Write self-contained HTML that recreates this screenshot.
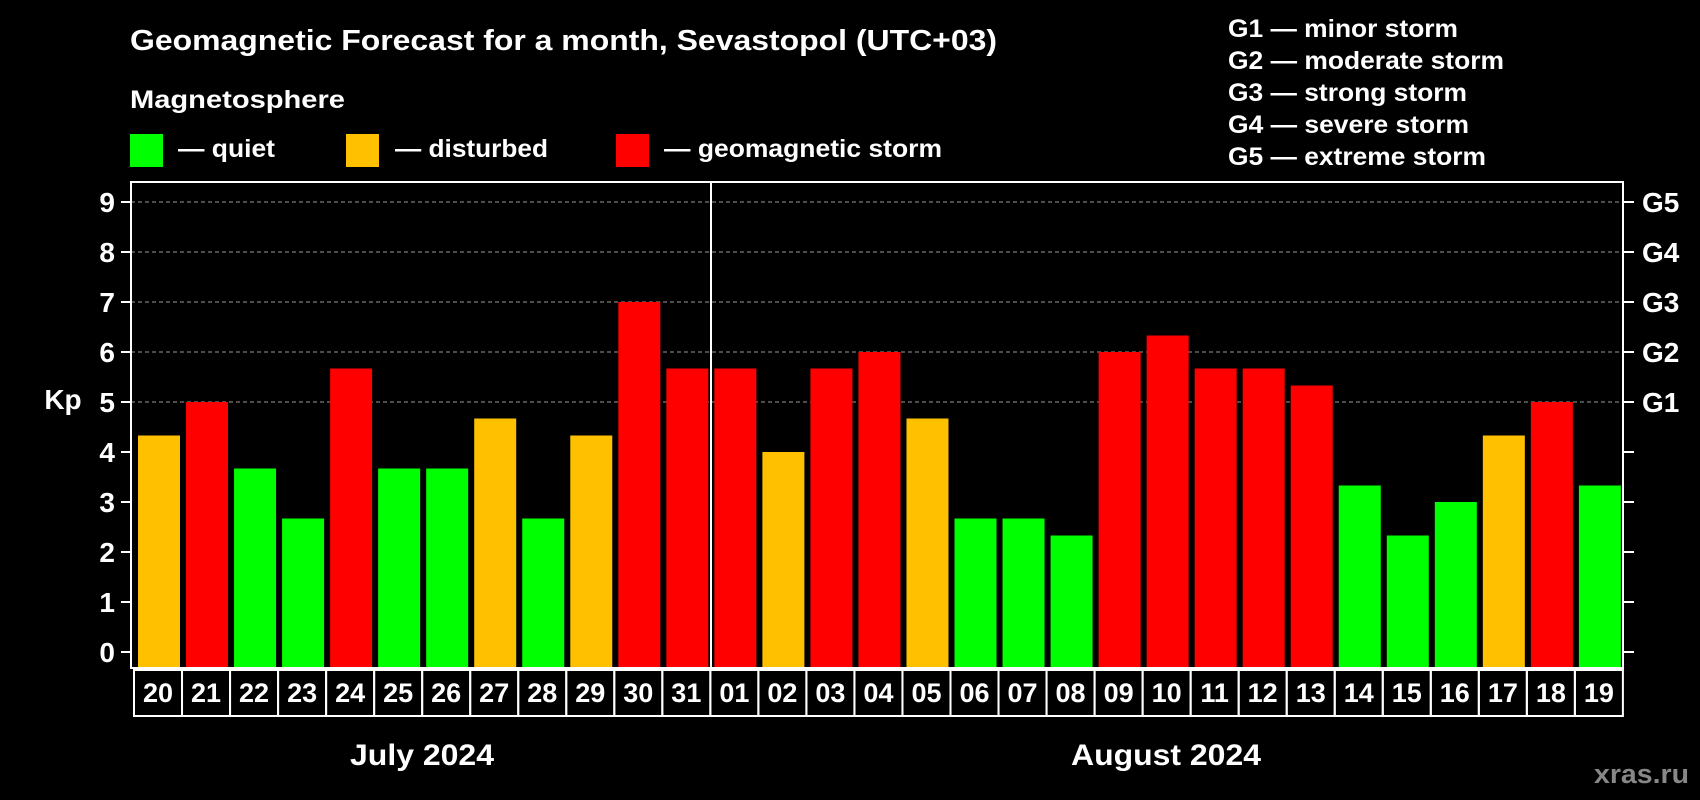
<!DOCTYPE html>
<html><head><meta charset="utf-8"><style>
html,body{margin:0;padding:0;background:#000;}
svg{display:block;font-family:"Liberation Sans",sans-serif;font-weight:bold;}
</style></head><body>
<svg id="chart" width="1700" height="800" viewBox="0 0 1700 800">
<text x="130" y="50" font-size="29" fill="#fff" textLength="867" lengthAdjust="spacingAndGlyphs">Geomagnetic Forecast for a month, Sevastopol (UTC+03)</text>
<text x="130" y="108" font-size="25" fill="#fff" textLength="215" lengthAdjust="spacingAndGlyphs">Magnetosphere</text>
<g><rect x="130" y="134" width="33" height="33" fill="#00ff00"/><text x="178" y="157" font-size="25" fill="#fff" textLength="97" lengthAdjust="spacingAndGlyphs">— quiet</text></g>
<g><rect x="346" y="134" width="33" height="33" fill="#ffc000"/><text x="395" y="157" font-size="25" fill="#fff" textLength="153" lengthAdjust="spacingAndGlyphs">— disturbed</text></g>
<g><rect x="616" y="134" width="33" height="33" fill="#ff0000"/><text x="664" y="157" font-size="25" fill="#fff" textLength="278" lengthAdjust="spacingAndGlyphs">— geomagnetic storm</text></g>
<g font-size="25" fill="#fff">
<text x="1228" y="37" textLength="230" lengthAdjust="spacingAndGlyphs">G1 — minor storm</text>
<text x="1228" y="69" textLength="276" lengthAdjust="spacingAndGlyphs">G2 — moderate storm</text>
<text x="1228" y="101" textLength="239" lengthAdjust="spacingAndGlyphs">G3 — strong storm</text>
<text x="1228" y="133" textLength="241" lengthAdjust="spacingAndGlyphs">G4 — severe storm</text>
<text x="1228" y="165" textLength="258" lengthAdjust="spacingAndGlyphs">G5 — extreme storm</text>
</g>
<text x="63" y="409" font-size="28" fill="#fff" text-anchor="middle">Kp</text>
<g id="plot"></g>
<text x="422" y="765" font-size="30" fill="#fff" text-anchor="middle" textLength="144" lengthAdjust="spacingAndGlyphs">July 2024</text>
<text x="1166" y="765" font-size="30" fill="#fff" text-anchor="middle" textLength="190" lengthAdjust="spacingAndGlyphs">August 2024</text>
<text x="1689" y="783" font-size="27" fill="#888" text-anchor="end" textLength="95" lengthAdjust="spacingAndGlyphs">xras.ru</text>
</svg>
<script>
const days = ["20","21","22","23","24","25","26","27","28","29","30","31","01","02","03","04","05","06","07","08","09","10","11","12","13","14","15","16","17","18","19"];
const kpValues = [4.33,5,3.67,2.67,5.67,3.67,3.67,4.67,2.67,4.33,7,5.67,5.67,4,5.67,6,4.67,2.67,2.67,2.33,6,6.33,5.67,5.67,5.33,3.33,2.33,3,4.33,5,3.33];
const yTicks = [0,1,2,3,4,5,6,7,8,9];
const gLabels = ["G1","G2","G3","G4","G5"];
const gLevels = [5,6,7,8,9];
const monthBreakIndex = 12;

const NS = "http://www.w3.org/2000/svg";
const plot = document.getElementById("plot");
const L = 131, R = 1623, T = 182, B = 668;
const y0 = 652, yUnit = (652 - 202) / 9;
function yScale(v){ return y0 - v * yUnit; }
function slotX(i){ return 134 + i * 48.03; }
function mk(tag, attrs){ const e = document.createElementNS(NS, tag); for (const k in attrs) e.setAttribute(k, attrs[k]); plot.appendChild(e); return e; }
function color(v){ return v >= 5 ? "#ff0000" : (v >= 4 ? "#ffc000" : "#00ff00"); }

gLevels.forEach(function(v){
  const g = mk("line", {x1: L, x2: R, y1: yScale(v), y2: yScale(v), stroke: "#999", "stroke-width": 1, "stroke-dasharray": "4,3"});
  
  
});
kpValues.forEach(function(v, i){
  const r = mk("rect", {x: slotX(i) + 4, y: yScale(v), width: 42, height: B - yScale(v), fill: color(v)});
  
  
});
const frame = mk("rect", {x: L, y: T, width: R - L, height: B - T, fill: "none", stroke: "#fff", "stroke-width": 2});


const div = mk("line", {x1: 711, x2: 711, y1: T, y2: B, stroke: "#fff", "stroke-width": 2});


yTicks.forEach(function(v){
  const y = yScale(v);
  const t1 = mk("line", {x1: 121, x2: L, y1: y, y2: y, stroke: "#fff", "stroke-width": 2});
  
  
  const t2 = mk("line", {x1: R, x2: 1634, y1: y, y2: y, stroke: "#fff", "stroke-width": 2});
  
  
  const lbl = mk("text", {x: 115, y: y + 10, "font-size": 28, fill: "#fff", "text-anchor": "end"});
  lbl.textContent = v;
  
  
});
gLevels.forEach(function(v, i){
  const lbl = mk("text", {x: 1642, y: yScale(v) + 10, "font-size": 28, fill: "#fff"});
  lbl.textContent = gLabels[i];
  
  
});
days.forEach(function(d, i){
  const b = mk("rect", {x: slotX(i), y: 670, width: 48, height: 46, fill: "none", stroke: "#fff", "stroke-width": 2});
  
  
  const t = mk("text", {x: slotX(i) + 24, y: 702, "font-size": 27, fill: "#fff", "text-anchor": "middle"});
  t.textContent = d;
  
  
});
</script>
</body></html>
